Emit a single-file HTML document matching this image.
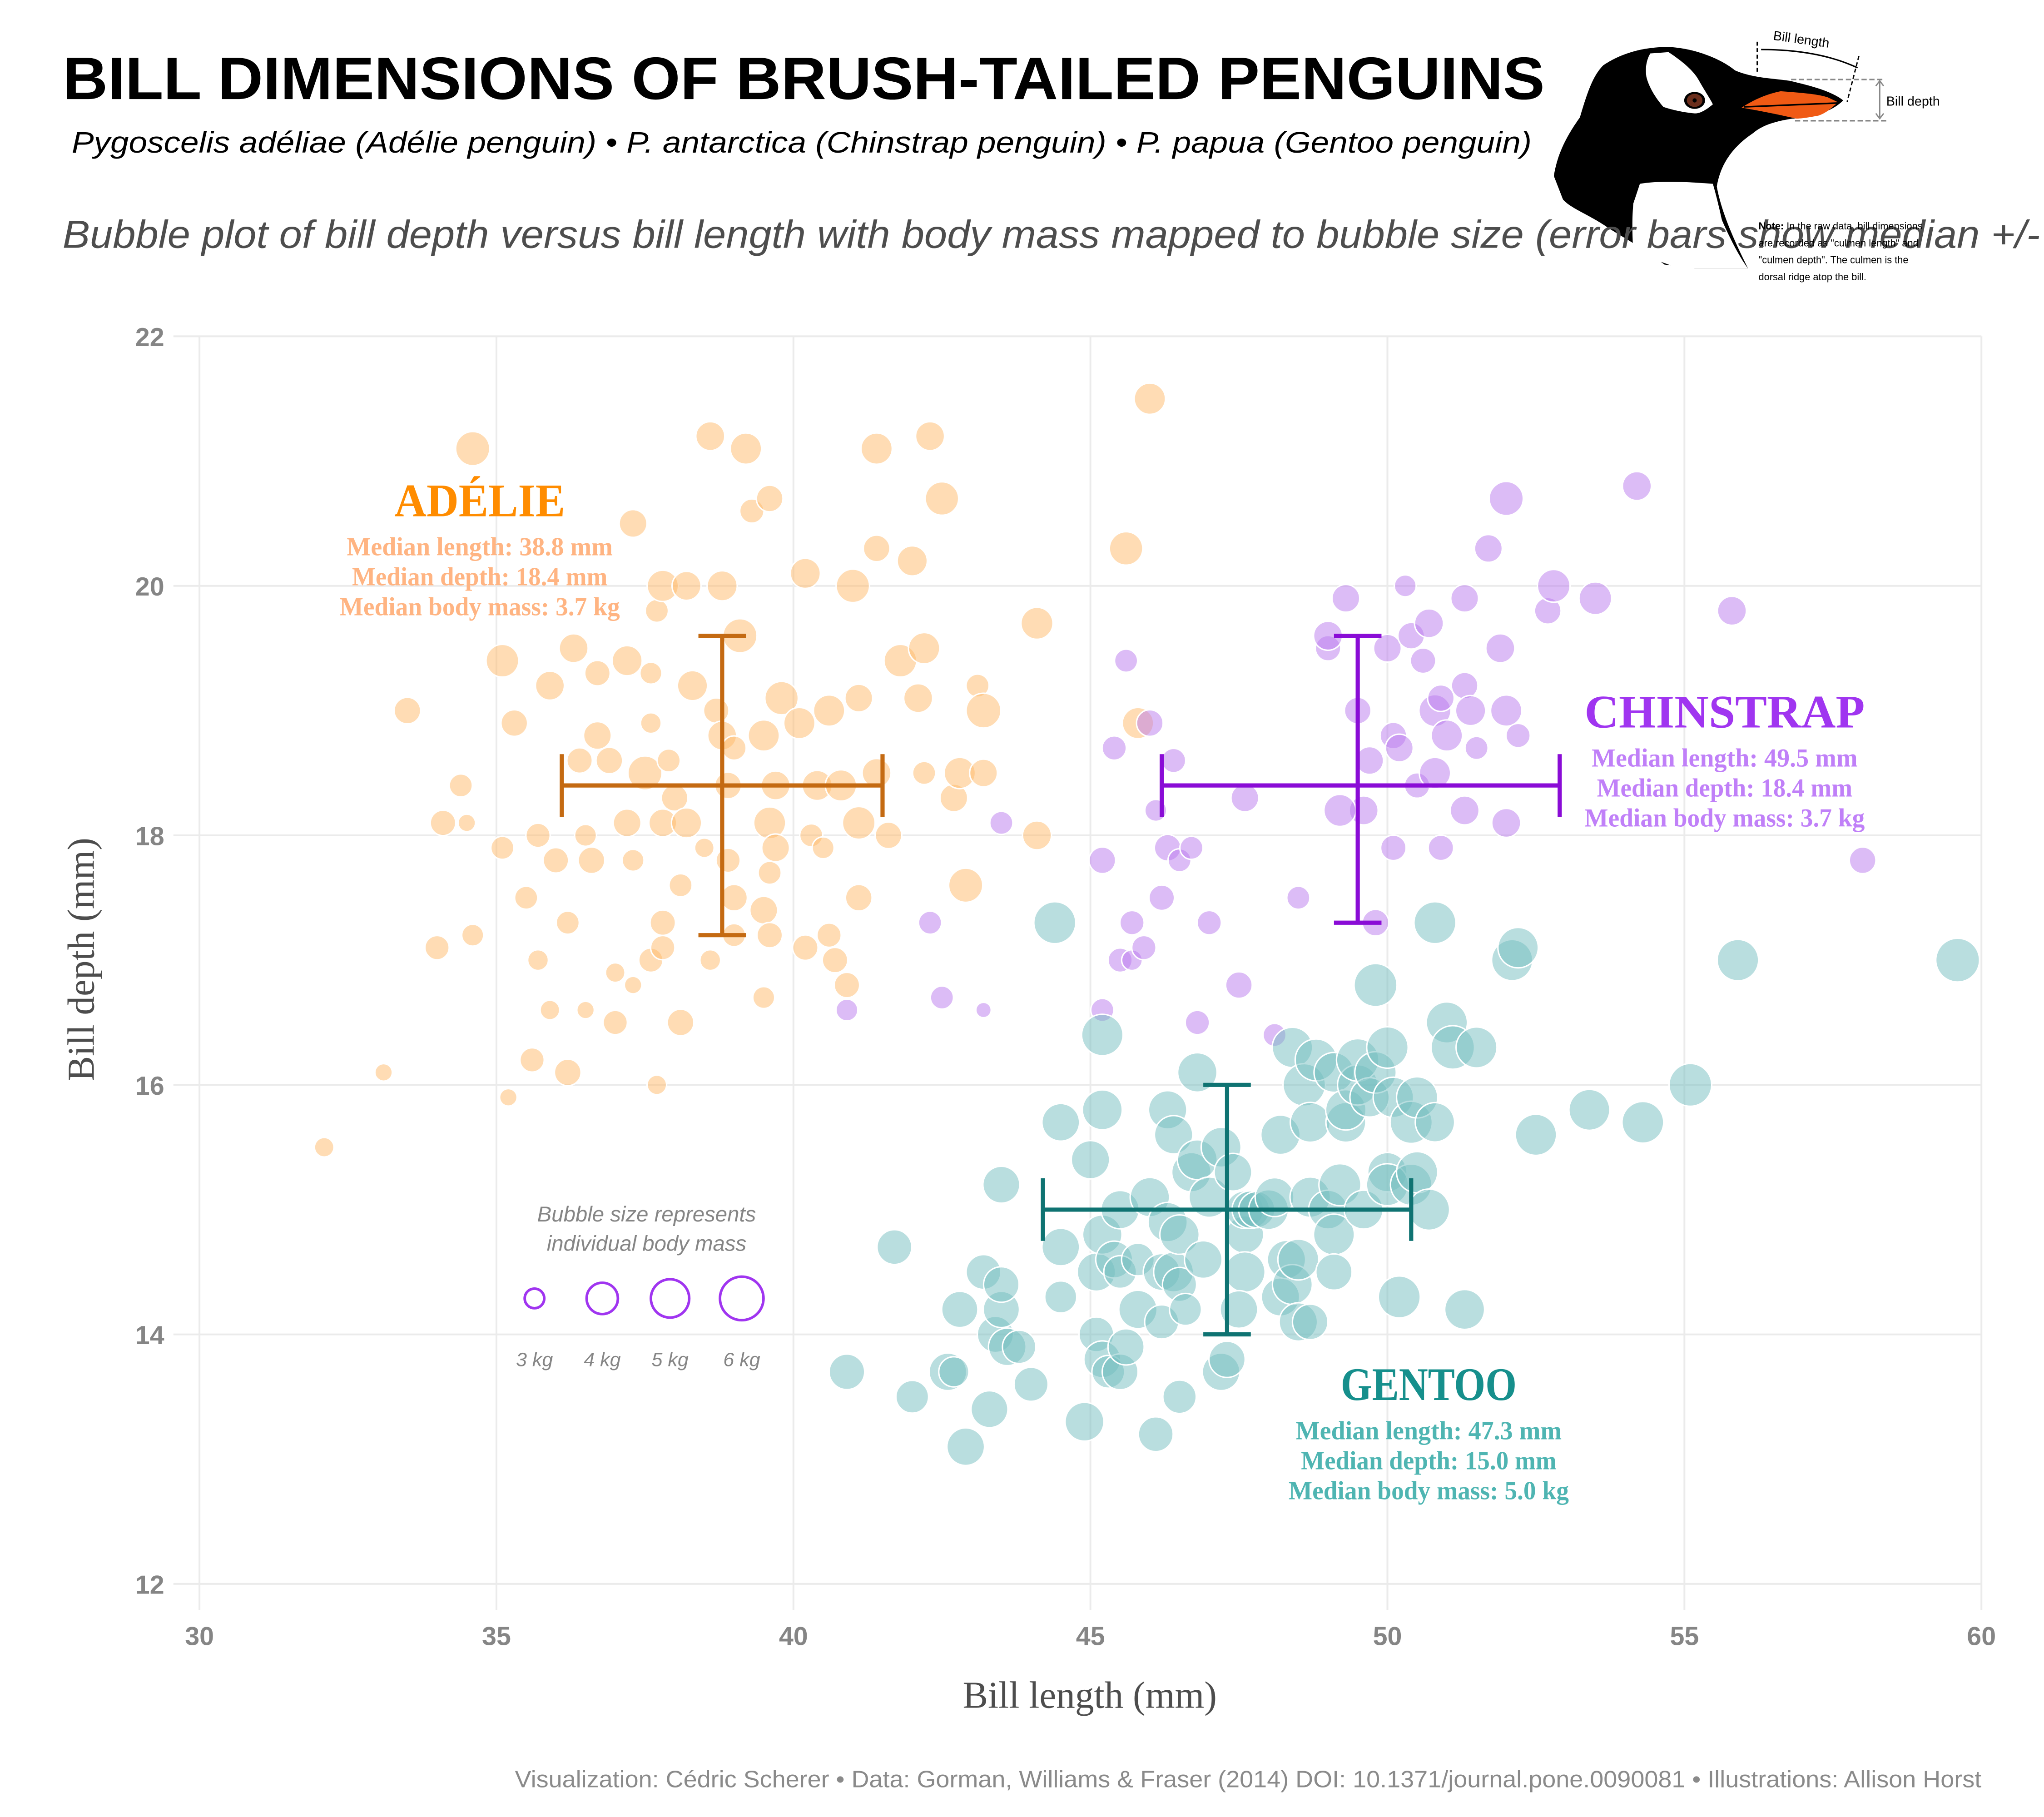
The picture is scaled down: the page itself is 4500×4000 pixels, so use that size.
<!DOCTYPE html>
<html><head><meta charset="utf-8"><style>
html,body{margin:0;padding:0;background:#fff;}
svg{display:block;}
</style></head><body>
<svg id="chart" xmlns="http://www.w3.org/2000/svg" width="4500" height="4000" viewBox="0 0 1568 1393.8">
<rect x="0" y="0" width="1568" height="1393.8" fill="#fff"/>
<text x="48" y="76" font-family="Liberation Sans, sans-serif" font-weight="bold" font-size="46" textLength="1137" lengthAdjust="spacingAndGlyphs" fill="#000">BILL DIMENSIONS OF BRUSH-TAILED PENGUINS</text>
<text x="55" y="117" font-family="Liberation Sans, sans-serif" font-style="italic" font-size="23" textLength="1120" lengthAdjust="spacingAndGlyphs" fill="#000">Pygoscelis adéliae (Adélie penguin)  •  P. antarctica (Chinstrap penguin)  •  P. papua (Gentoo penguin)</text>
<g id="illustration">
  <path d="M1192,135 C1195,115 1205,100 1212,90 C1218,70 1222,58 1230,50 C1245,40 1262,36 1280,36 C1300,37 1320,45 1331,54 C1345,60 1360,60 1373,62 C1390,66 1405,70 1414,77 C1405,86 1390,90 1375,91 C1362,93 1352,96 1345,102 C1330,112 1320,125 1317,143 C1320,160 1328,180 1341,206 L1300,206 C1285,204 1278,203 1277,203 C1260,190 1245,182 1234,175 C1220,165 1205,160 1199,153 Z" fill="#000"/>
  <path d="M1258,141 C1275,138 1300,140 1314,141 C1318,155 1320,165 1321,169 C1328,185 1335,198 1341,206 L1287,206 C1275,200 1262,198 1253,194 C1252,180 1252,165 1253,156 Z" fill="#fff"/>
  <path d="M1266,41 L1280,40 C1292,48 1300,55 1304,63 C1308,70 1312,76 1314,80 C1308,85 1304,87 1300,87 C1290,86 1282,84 1276,82 C1270,75 1265,67 1263,59 C1262,52 1263,46 1266,41 Z" fill="#fff"/>
  <ellipse cx="1300" cy="77" rx="8" ry="6.5" fill="#000"/>
  <ellipse cx="1300" cy="77" rx="6" ry="5" fill="#6b2e1c"/>
  <circle cx="1300" cy="77" r="1.6" fill="#000"/>
  <path d="M1336,82.6 C1346,76 1356,72 1366,70 C1380,71 1394,72 1402,74.6 L1410,78.4 C1404,84 1400,87 1395,88.7 C1388,90 1382,91 1378,91 C1365,88 1350,85 1336,82.6 Z" fill="#f05a14"/>
  <path d="M1338,82 L1410,79" stroke="#000" stroke-width="1.2"/>
  <path d="M1348,32 L1348,57 M1426,43 L1417,78" stroke="#000" stroke-width="1" stroke-dasharray="3,2" fill="none"/>
  <path d="M1351,38 Q1395,38 1425,52" stroke="#000" stroke-width="1.1" fill="none"/>
  <text x="1360" y="34" font-family="Liberation Sans, sans-serif" font-size="10" fill="#000" transform="rotate(8 1385 32)">Bill length</text>
  <path d="M1374,61 L1445,61 M1377,92.6 L1447,92.6" stroke="#888" stroke-width="1.2" stroke-dasharray="4,2" fill="none"/>
  <path d="M1442,63 L1442,90 M1439,66 L1442,62 L1445,66 M1439,87 L1442,91 L1445,87" stroke="#888" stroke-width="1" fill="none"/>
  <text x="1447" y="81" font-family="Liberation Sans, sans-serif" font-size="10" fill="#000">Bill depth</text>
</g>
<text x="48" y="190" font-family="Liberation Sans, sans-serif" font-style="italic" font-size="30" textLength="1517" lengthAdjust="spacingAndGlyphs" fill="#4d4d4d">Bubble plot of bill depth versus bill length with body mass mapped to bubble size (error bars show median +/-</text>
<g font-family="Liberation Sans, sans-serif" font-size="7.6" fill="#000">
  <text x="1349" y="176"><tspan font-weight="bold">Note:</tspan> In the raw data, bill dimensions</text>
  <text x="1349" y="189">are recorded as "culmen length" and</text>
  <text x="1349" y="202">"culmen depth". The culmen is the</text>
  <text x="1349" y="215">dorsal ridge atop the bill.</text>
</g>
<g id="grid"></g>
<g id="points"></g>
<g id="errorbars"></g>
<g id="labels"></g>
<g id="legend"></g>
<text x="836" y="1310" text-anchor="middle" font-family="Liberation Serif, serif" font-size="29" fill="#4d4d4d">Bill length (mm)</text>
<text x="0" y="0" text-anchor="middle" font-family="Liberation Serif, serif" font-size="29" fill="#4d4d4d" transform="translate(72 736) rotate(-90)">Bill depth (mm)</text>
<text x="1520" y="1371" text-anchor="end" font-family="Liberation Sans, sans-serif" font-size="18" textLength="1125" lengthAdjust="spacingAndGlyphs" fill="#8a8a8a">Visualization: Cédric Scherer  •  Data: Gorman, Williams &amp; Fraser (2014) DOI: 10.1371/journal.pone.0090081  •  Illustrations: Allison Horst</text>
</svg>
<script>
const xTicks = [30, 35, 40, 45, 50, 55, 60];
const yTicks = [12, 14, 16, 18, 20, 22];
const speciesNames = ["ADÉLIE", "CHINSTRAP", "GENTOO"];
const medianLength = [38.8, 49.5, 47.3];
const medianDepth = [18.4, 18.4, 15.0];
const medianMass = [3.7, 3.7, 5.0];
const lengthLow = [36.1, 46.2, 44.2];
const lengthHigh = [41.5, 52.9, 50.4];
const depthLow = [17.2, 17.3, 14.0];
const depthHigh = [19.6, 19.6, 16.0];
const legendMasses = [3, 4, 5, 6];
// [bill length, bill depth, body mass kg]
const adeliePoints = [
[32.1,15.5,3.0],[33.1,16.1,2.9],[33.5,19.0,3.6],[34.0,17.1,3.4],[34.1,18.1,3.5],[34.4,18.4,3.3],[34.5,18.1,2.9],[34.6,17.2,3.2],[34.6,21.1,4.4],[35.1,17.9,3.3],[35.1,19.4,4.2],[35.2,15.9,2.9],[35.3,18.9,3.6],[35.5,17.5,3.3],[35.6,16.2,3.4],[35.7,18.0,3.4],[35.7,17.0,3.1],[35.9,16.6,3.0],[35.9,19.2,3.8],[36.0,17.8,3.5],[36.2,16.1,3.6],[36.2,17.3,3.3],[36.3,19.5,3.8],[36.4,18.6,3.5],[36.5,18.0,3.2],[36.5,16.6,2.9],[36.6,17.8,3.6],[36.7,18.8,3.7],[36.7,19.3,3.5],[36.9,18.6,3.6],[37.0,16.9,3.0],[37.0,16.5,3.4],[37.2,18.1,3.7],[37.2,19.4,3.9],[37.3,20.5,3.7],[37.3,17.8,3.2],[37.3,16.8,2.9],[37.5,18.5,4.4],[37.6,18.9,3.1],[37.6,17.0,3.4],[37.6,19.3,3.2],[37.7,16.0,3.0],[37.7,19.8,3.3],[37.8,20.0,4.0],[37.8,18.1,3.7],[37.8,17.3,3.5],[37.8,17.1,3.4],[37.9,18.6,3.3],[38.0,18.3,3.6],[38.1,17.6,3.3],[38.1,16.5,3.6],[38.2,18.1,3.9],[38.2,20.0,3.8],[38.3,19.2,3.9],[38.5,17.9,3.0],[38.6,21.2,3.8],[38.6,17.0,3.1],[38.7,19.0,3.5],[38.8,20.0,3.9],[38.8,18.8,3.8],[38.9,18.4,3.6],[38.9,17.8,3.4],[39.0,18.7,3.4],[39.0,17.5,3.6],[39.0,17.2,3.3],[39.1,19.6,4.4],[39.2,21.1,4.0],[39.3,20.6,3.4],[39.5,18.8,4.0],[39.5,17.4,3.7],[39.6,17.7,3.3],[39.6,20.7,3.6],[39.6,17.2,3.5],[39.6,18.1,4.1],[39.7,18.4,3.8],[39.8,19.1,4.3],[39.5,16.7,3.2],[39.7,17.9,3.7],[40.1,18.9,4.0],[40.2,20.1,3.9],[40.2,17.1,3.5],[40.3,18.0,3.3],[40.4,18.4,3.9],[40.5,17.9,3.2],[40.6,19.0,4.0],[40.6,17.2,3.4],[40.7,17.0,3.5],[40.8,18.4,4.0],[40.9,16.8,3.5],[41.0,20.0,4.3],[41.1,18.1,4.2],[41.1,17.5,3.6],[41.1,19.1,3.7],[41.4,21.1,4.0],[41.4,20.3,3.6],[41.4,18.5,3.8],[41.6,18.0,3.6],[41.8,19.4,4.2],[42.0,20.2,3.9],[42.1,19.1,3.8],[42.2,19.5,4.0],[42.2,18.5,3.3],[42.3,21.2,3.8],[42.5,20.7,4.3],[42.7,18.3,3.7],[42.8,18.5,4.0],[42.9,17.6,4.4],[43.1,19.2,3.3],[43.2,19.0,4.5],[43.2,18.5,3.7],[44.1,19.7,4.1],[44.1,18.0,3.8],[45.6,20.3,4.3],[46.0,21.5,4.0],[45.8,18.9,4.0]
];
const chinstrapPoints = [
[40.9,16.6,3.2],[42.3,17.3,3.3],[42.5,16.7,3.3],[43.2,16.6,2.8],[43.5,18.1,3.3],[45.2,17.8,3.6],[45.2,16.6,3.3],[45.4,18.7,3.4],[45.6,19.4,3.3],[45.5,17.0,3.4],[45.7,17.3,3.4],[45.7,17.0,3.1],[45.9,17.1,3.4],[46.0,18.9,3.6],[46.1,18.2,3.2],[46.2,17.5,3.5],[46.3,17.9,3.6],[46.4,18.6,3.4],[46.5,17.8,3.3],[46.7,17.9,3.3],[46.8,16.5,3.4],[47.0,17.3,3.4],[47.5,16.8,3.6],[47.6,18.3,3.7],[48.1,16.4,3.3],[48.5,17.5,3.3],[49.0,19.5,3.5],[49.0,19.6,3.8],[49.3,19.9,3.7],[49.5,19.0,3.6],[49.6,18.2,3.8],[49.7,18.6,3.7],[49.8,17.3,3.6],[49.2,18.2,4.1],[50.0,19.5,3.7],[50.1,17.9,3.5],[50.1,18.8,3.6],[50.2,18.7,3.7],[50.3,20.0,3.2],[50.4,19.6,3.6],[50.5,18.4,3.5],[50.6,19.4,3.5],[50.7,19.7,3.8],[50.8,19.0,4.1],[50.8,18.5,4.0],[50.9,19.1,3.6],[50.9,17.9,3.5],[51.0,18.8,4.0],[51.3,19.2,3.6],[51.3,18.2,3.8],[51.3,19.9,3.7],[51.4,19.0,3.9],[51.5,18.7,3.3],[51.7,20.3,3.7],[51.9,19.5,3.8],[52.0,19.0,4.0],[52.0,18.1,3.8],[52.0,20.7,4.4],[52.2,18.8,3.4],[52.7,19.8,3.6],[52.8,20.0,4.2],[53.5,19.9,4.2],[54.2,20.8,3.8],[55.8,19.8,3.8],[58.0,17.8,3.6]
];
const gentooPoints = [
[40.9,13.7,4.6],[41.7,14.7,4.5],[42.0,13.5,4.2],[42.8,14.2,4.7],[42.9,13.1,4.9],[42.6,13.7,4.9],[42.7,13.7,3.9],[43.2,14.5,4.5],[43.3,13.4,4.8],[43.4,14.0,4.7],[43.5,14.2,4.7],[43.5,15.2,4.8],[43.5,14.4,4.6],[43.6,13.9,4.9],[43.8,13.9,4.3],[44.0,13.6,4.4],[44.4,17.3,5.7],[44.5,15.7,4.9],[44.5,14.7,4.9],[44.5,14.3,4.1],[44.9,13.3,5.1],[45.0,15.4,5.0],[45.1,14.5,5.0],[45.2,15.8,5.3],[45.2,16.4,5.6],[45.2,14.8,5.2],[45.1,14.0,4.5],[45.2,13.8,4.8],[45.3,13.7,4.2],[45.4,14.6,4.8],[45.5,13.7,4.65],[45.5,15.0,5.0],[45.5,14.5,4.2],[45.6,13.9,4.7],[45.8,14.6,4.2],[45.8,14.2,5.0],[46.0,15.1,5.2],[46.1,13.2,4.5],[46.2,14.1,4.4],[46.2,14.5,4.8],[46.3,15.8,5.0],[46.3,14.9,5.2],[46.4,15.6,5.0],[46.4,14.5,5.3],[46.5,14.4,4.4],[46.5,13.5,4.3],[46.5,14.8,5.2],[46.6,14.2,4.1],[46.7,15.3,5.2],[46.8,16.1,5.2],[46.8,15.4,5.3],[46.9,14.6,4.9],[47.0,15.1,5.4],[47.2,15.5,5.3],[47.2,13.7,4.9],[47.3,13.8,4.7],[47.4,15.3,4.9],[47.6,14.8,4.9],[47.6,14.5,5.4],[47.6,15.0,4.9],[47.5,14.2,4.9],[47.7,15.0,4.9],[47.8,15.0,4.7],[48.0,15.0,5.3],[48.1,15.1,5.1],[48.2,15.6,5.2],[48.2,14.3,5.0],[48.3,14.6,5.0],[48.4,14.4,5.3],[48.4,16.3,5.4],[48.5,14.1,5.0],[48.5,14.6,5.5],[48.6,16.0,5.8],[48.7,15.7,5.3],[48.7,14.1,4.6],[48.7,15.1,5.4],[48.8,16.2,5.7],[49.0,15.0,5.1],[49.1,14.8,5.5],[49.1,14.5,4.7],[49.1,16.1,5.3],[49.2,15.2,5.7],[49.3,15.7,5.3],[49.3,15.8,5.4],[49.5,16.0,5.4],[49.5,16.2,5.8],[49.6,15.0,5.1],[49.7,15.9,5.2],[49.8,16.1,5.6],[49.8,16.8,5.9],[50.0,16.3,5.6],[50.0,15.3,5.2],[50.0,15.2,5.7],[50.1,15.9,5.4],[50.2,14.3,5.7],[50.4,15.2,5.6],[50.4,15.7,5.75],[50.5,15.9,5.55],[50.5,15.3,5.55],[50.7,15.0,5.55],[50.8,17.3,5.7],[50.8,15.7,5.2],[51.0,16.5,5.55],[51.1,16.3,6.0],[51.3,14.2,5.3],[51.5,16.3,5.5],[52.1,17.0,5.55],[52.2,17.1,5.4],[52.5,15.6,5.55],[53.4,15.8,5.5],[54.3,15.7,5.65],[55.1,16.0,5.85],[55.9,17.0,5.6],[59.6,17.0,6.05]
];

const NS = "http://www.w3.org/2000/svg";
const X0 = 153, X1 = 1520, Y0 = 1215, Y1 = 258;
function xScale(v){ return X0 + (v - 30) / 30 * (X1 - X0); }
function yScale(v){ return Y0 - (v - 12) / 10 * (Y0 - Y1); }
function rScale(m){
  if (m <= 3) return Math.max(3, 7.5 - (3 - m) * 8);
  if (m <= 4) return 7.5 + (m - 3) * 4.5;
  if (m <= 5) return 12 + (m - 4) * 2.7;
  return 14.7 + (m - 5) * 2.0;
}
function mk(tag, attrs, parent){
  const el = document.createElementNS(NS, tag);
  for (const k in attrs) el.setAttribute(k, attrs[k]);
  parent.appendChild(el);
  return el;
}
const grid = document.getElementById('grid');
yTicks.forEach(t => {
  const l = mk('line', {x1: 133, x2: X1, y1: yScale(t), y2: yScale(t), stroke: '#ebebeb', 'stroke-width': 1.4}, grid);
  
  
  const tx = mk('text', {x: 126, y: yScale(t) + 7.5, 'text-anchor': 'end', 'font-family': 'Liberation Sans, sans-serif', 'font-weight': 'bold', 'font-size': 20, fill: '#858585'}, grid);
  tx.textContent = t;
  
  
});
xTicks.forEach(t => {
  const l = mk('line', {x1: xScale(t), x2: xScale(t), y1: Y1, y2: 1235, stroke: '#ebebeb', 'stroke-width': 1.4}, grid);
  
  
  const tx = mk('text', {x: xScale(t), y: 1262, 'text-anchor': 'middle', 'font-family': 'Liberation Sans, sans-serif', 'font-weight': 'bold', 'font-size': 20, fill: '#858585'}, grid);
  tx.textContent = t;
  
  
});

const pts = document.getElementById('points');
const fills = ['#FFB969', '#B979ED', '#73BDBF'];
[adeliePoints, chinstrapPoints, gentooPoints].forEach((arr, si) => {
  arr.forEach(p => {
    const c = mk('circle', {cx: xScale(p[0]), cy: yScale(p[1]), r: rScale(p[2]), fill: fills[si], 'fill-opacity': 0.5, stroke: '#fff', 'stroke-width': 1.1}, pts);
    
    
  });
});

const eb = document.getElementById('errorbars');
const barCols = ['#C46A12', '#8A0CD6', '#0F7372'];
speciesNames.forEach((s, i) => {
  const g = mk('g', {stroke: barCols[i], 'stroke-width': 3.2, fill: 'none'}, eb);
  
  
  const cx = xScale(medianLength[i]), cy = yScale(medianDepth[i]);
  const hc = 24, wc = 0.4 * (X1 - X0) / 30;
  mk('line', {x1: xScale(lengthLow[i]), x2: xScale(lengthHigh[i]), y1: cy, y2: cy}, g);
  mk('line', {x1: xScale(lengthLow[i]), x2: xScale(lengthLow[i]), y1: cy - hc, y2: cy + hc}, g);
  mk('line', {x1: xScale(lengthHigh[i]), x2: xScale(lengthHigh[i]), y1: cy - hc, y2: cy + hc}, g);
  mk('line', {x1: cx, x2: cx, y1: yScale(depthLow[i]), y2: yScale(depthHigh[i])}, g);
  mk('line', {x1: cx - wc, x2: cx + wc, y1: yScale(depthLow[i]), y2: yScale(depthLow[i])}, g);
  mk('line', {x1: cx - wc, x2: cx + wc, y1: yScale(depthHigh[i]), y2: yScale(depthHigh[i])}, g);
});

const lab = document.getElementById('labels');
const labPos = [[368, 396], [1323, 558], [1096, 1074]];
const labW = [131, 215, 135];
const titleCols = ['#FF8C00', '#A035F0', '#168F8C'];
const textCols = ['#FFB482', '#C080F8', '#4FB5B2'];
speciesNames.forEach((s, i) => {
  const [lx, ly] = labPos[i];
  const t = mk('text', {x: lx, y: ly, 'text-anchor': 'middle', 'font-family': 'Liberation Serif, serif', 'font-weight': 'bold', 'font-size': 36, fill: titleCols[i], textLength: labW[i], lengthAdjust: 'spacingAndGlyphs'}, lab);
  t.textContent = s;
  
  
  const lines = ['Median length: ' + medianLength[i].toFixed(1) + ' mm', 'Median depth: ' + medianDepth[i].toFixed(1) + ' mm', 'Median body mass: ' + medianMass[i].toFixed(1) + ' kg'];
  const ws = [204, 196, 215];
  lines.forEach((ln, k) => {
    const tt = mk('text', {x: lx, y: ly + 30 + k * 23, 'text-anchor': 'middle', 'font-family': 'Liberation Serif, serif', 'font-weight': 'bold', 'font-size': 20, fill: textCols[i], textLength: ws[k], lengthAdjust: 'spacingAndGlyphs'}, lab);
    tt.textContent = ln;
    
    
  });
});

const leg = document.getElementById('legend');
['Bubble size represents', 'individual body mass'].forEach((ln, k) => {
  const t = mk('text', {x: 496, y: 937 + k * 22.5, 'text-anchor': 'middle', 'font-family': 'Liberation Sans, sans-serif', 'font-style': 'italic', 'font-size': 16.5, fill: '#858585'}, leg);
  t.textContent = ln;
  
  
});
const legX = [410, 462, 514, 569];
legendMasses.forEach((m, k) => {
  const c = mk('circle', {cx: legX[k], cy: 996, r: rScale(m), fill: 'none', stroke: '#A035F0', 'stroke-width': 2}, leg);
  
  
  const t = mk('text', {x: legX[k], y: 1048, 'text-anchor': 'middle', 'font-family': 'Liberation Sans, sans-serif', 'font-style': 'italic', 'font-size': 15, fill: '#858585'}, leg);
  t.textContent = m + ' kg';
  
  
});
</script>
</body></html>
